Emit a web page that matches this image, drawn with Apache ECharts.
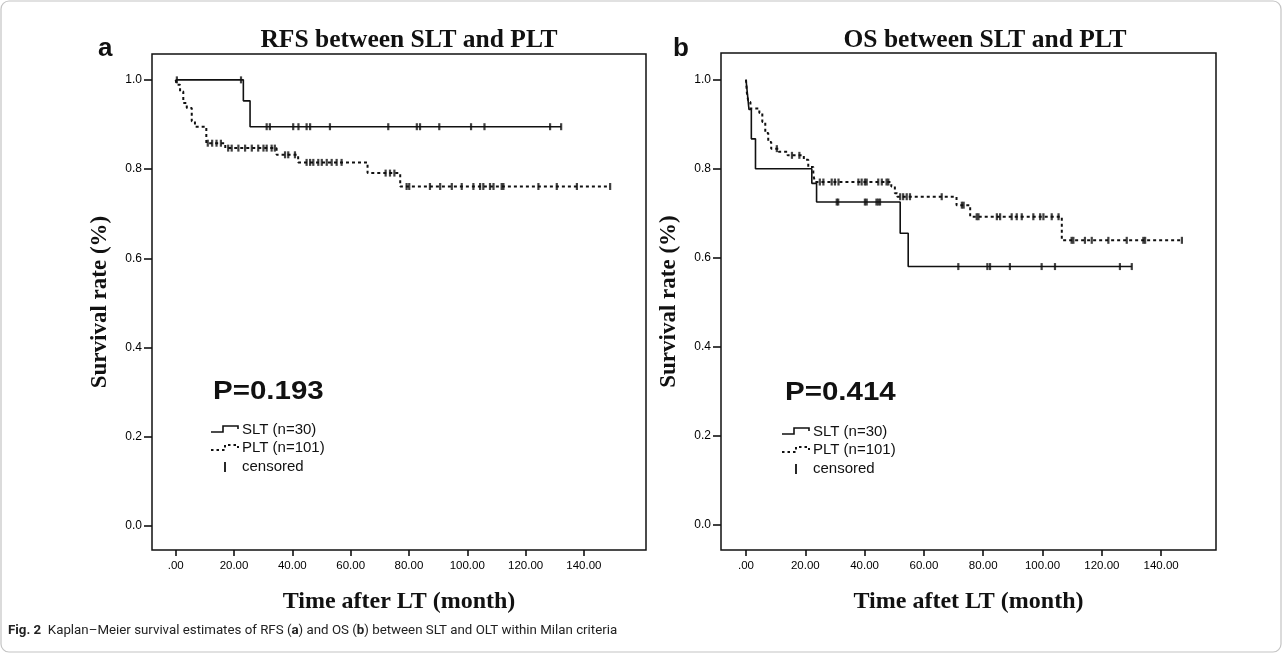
<!DOCTYPE html>
<html>
<head>
<meta charset="utf-8">
<script src="https://cdn.jsdelivr.net/npm/echarts@6/dist/echarts.min.js"></script>
<style>
  html, body { margin: 0; padding: 0; background: #fff; }
  #km { width: 1282px; height: 653px; }
</style>
</head>
<body>
<div id="km"></div>
<script>
// tick labels
const xTicks = [0, 20, 40, 60, 80, 100, 120, 140];
const yTicks = [0, 0.2, 0.4, 0.6, 0.8, 1.0];

// RFS (a) - step points [month, survival]
const rfsSltSteps = [[0, 1], [23.2, 0.953], [25.5, 0.895], [132.2, 0.895]];
const rfsSltCensor = [0.4, 22.4, 31.2, 32.3, 40.3, 42.1, 44.9, 46.1, 52.9, 72.9, 82.7, 83.8, 90.4, 101.3, 105.9, 128.4, 132.2];
const rfsPltSteps = [[0, 1], [0.3, 0.989], [1.5, 0.974], [2.6, 0.948], [3.8, 0.937], [5.5, 0.907], [6.6, 0.895],
  [10.5, 0.858], [17, 0.847], [34.6, 0.832], [42, 0.815], [65.8, 0.791], [77, 0.761], [149, 0.761]];
const rfsPltCensor = [11, 12.5, 14, 15.5, 18, 19.2, 21.5, 23.8, 26.1, 28.3, 30.1, 31.2, 32.9, 34, 37.5, 38.6, 40.9,
  44.9, 46.1, 47.2, 48.9, 50.1, 51.8, 53.5, 55.2, 56.9, 72, 73.5, 75, 79.2, 80.1, 87.2, 90.7, 94.7, 98.1,
  102.1, 104.4, 105.5, 107.8, 109, 111.8, 112.4, 124.4, 130.7, 137.6, 149];

// OS (b)
const osSltSteps = [[0, 1], [0.5, 0.967], [1, 0.933], [1.8, 0.867], [3.2, 0.8], [22.2, 0.767], [23.8, 0.725],
  [52, 0.655], [54.7, 0.58], [130.1, 0.58]];
const osSltCensor = [30.6, 31.1, 40.1, 40.7, 44, 44.6, 45.2, 71.6, 81.4, 82.3, 89, 99.7, 104.2, 126.1, 130.1];
const osPltSteps = [[0, 1], [0.3, 0.97], [0.8, 0.95], [1.5, 0.935], [4.5, 0.925], [5.5, 0.905], [6.5, 0.88],
  [7.5, 0.86], [8.5, 0.845], [11, 0.838], [14, 0.83], [19.5, 0.82], [21, 0.804], [22.7, 0.785], [23.3, 0.77],
  [49, 0.76], [50.2, 0.745], [51, 0.737], [71, 0.718], [75.6, 0.692], [106.5, 0.639], [147, 0.639]];
const osPltCensor = [10.4, 15.5, 18, 24.9, 26.1, 28.9, 30, 31.2, 37.9, 39, 40.1, 40.7, 44.6, 45.8, 47.4, 48, 52, 53,
  54.2, 55.3, 66, 72.8, 73.4, 77.8, 78.4, 84.6, 85.7, 89.6, 91.3, 93, 96.9, 99.2, 100.3, 103.1, 105.4, 109.8,
  110.4, 114.3, 116.6, 122.2, 128.4, 134, 134.6, 147];

// survival level at time t (for placing censor marks on the curve)
function levelAt(steps, t) {
  let v = steps[0][1];
  for (const s of steps) { if (s[0] <= t) v = s[1]; }
  return v;
}
function censorPts(steps, times) {
  return times.map(t => [t, levelAt(steps, t)]);
}

const serif = 'Liberation Serif';
const sans = 'Liberation Sans';

function xAx(idx, min, max, name) {
  return {
    gridIndex: idx, type: 'value', min: min, max: max,
    name: name, nameLocation: 'middle', nameGap: 40,
    nameTextStyle: { fontFamily: serif, fontWeight: 'bold', fontSize: 24, color: '#111' },
    axisLine: { show: false, onZero: false },
    axisTick: { show: true, customValues: xTicks, length: 6, lineStyle: { color: '#111', width: 1.6 } },
    axisLabel: {
      customValues: xTicks, margin: 10, fontFamily: sans, fontSize: 11.5, color: '#000',
      formatter: v => v === 0 ? '.00' : v.toFixed(2)
    },
    splitLine: { show: false }
  };
}
function yAx(idx, min, max) {
  return {
    gridIndex: idx, type: 'value', min: min, max: max,
    name: 'Survival rate (%)', nameLocation: 'middle', nameGap: 40,
    nameTextStyle: { fontFamily: serif, fontWeight: 'bold', fontSize: 23, color: '#111' },
    axisLine: { show: false, onZero: false },
    axisTick: { show: true, customValues: yTicks, length: 8, lineStyle: { color: '#111', width: 1.6 } },
    axisLabel: {
      customValues: yTicks, margin: 10, fontFamily: sans, fontSize: 12, color: '#000',
      formatter: v => v.toFixed(1)
    },
    splitLine: { show: false }
  };
}

const solid = { color: '#111', width: 1.6, type: 'solid' };
const dotted = { color: '#111', width: 2, type: [3, 3] };

function curve(idx, steps, style) {
  return {
    type: 'line', xAxisIndex: idx, yAxisIndex: idx, step: 'end',
    data: steps, symbol: 'none', lineStyle: style, silent: true, animation: false
  };
}
function marks(idx, steps, times) {
  return {
    type: 'scatter', xAxisIndex: idx, yAxisIndex: idx,
    data: censorPts(steps, times), symbol: 'rect', symbolSize: [2.2, 7],
    itemStyle: { color: '#111' }, silent: true, animation: false
  };
}

function legendBlock(x, y) {
  // x,y: left of icon, centre of first row
  return {
    type: 'group', x: x, y: y,
    children: [
      { type: 'polyline', shape: { points: [[0, 2], [12, 2], [12, -4], [27, -4], [27, -1]] },
        style: { stroke: '#111', lineWidth: 1.6, fill: null } },
      { type: 'polyline', shape: { points: [[0, 20], [14, 20], [14, 15], [27, 15], [27, 18]] },
        style: { stroke: '#111', lineWidth: 2, lineDash: [2.5, 3], fill: null } },
      { type: 'line', shape: { x1: 14, y1: 32, x2: 14, y2: 42 }, style: { stroke: '#111', lineWidth: 1.8 } },
      { type: 'text', x: 31, y: 0, style: { text: 'SLT (n=30)', font: '15px ' + sans, fill: '#111', verticalAlign: 'middle' } },
      { type: 'text', x: 31, y: 18, style: { text: 'PLT (n=101)', font: '15px ' + sans, fill: '#111', verticalAlign: 'middle' } },
      { type: 'text', x: 31, y: 37, style: { text: 'censored', font: '15px ' + sans, fill: '#111', verticalAlign: 'middle' } }
    ]
  };
}

const chart = echarts.init(document.getElementById('km'), null, { renderer: 'canvas' });
chart.setOption({
  animation: false,
  backgroundColor: '#fff',
  title: [
    { text: 'RFS between SLT and PLT', left: 404, top: 22, textAlign: 'center',
      textStyle: { fontFamily: serif, fontWeight: 'bold', fontSize: 25.5, color: '#111' } },
    { text: 'OS between SLT and PLT', left: 980, top: 22, textAlign: 'center',
      textStyle: { fontFamily: serif, fontWeight: 'bold', fontSize: 25.5, color: '#111' } }
  ],
  grid: [
    { left: 152, top: 54, width: 494, height: 496, show: true, borderColor: '#111', borderWidth: 1.5, backgroundColor: 'transparent' },
    { left: 721, top: 53, width: 495, height: 497, show: true, borderColor: '#111', borderWidth: 1.5, backgroundColor: 'transparent' }
  ],
  xAxis: [
    xAx(0, -8.13, 161.3, 'Time after LT (month)'),
    xAx(1, -8.43, 158.5, 'Time aftet LT (month)')
  ],
  yAxis: [
    yAx(0, -0.054, 1.058),
    yAx(1, -0.057, 1.06)
  ],
  series: [
    curve(0, rfsSltSteps, solid),
    curve(0, rfsPltSteps, dotted),
    marks(0, rfsSltSteps, rfsSltCensor),
    marks(0, rfsPltSteps, rfsPltCensor),
    curve(1, osSltSteps, solid),
    curve(1, osPltSteps, dotted),
    marks(1, osSltSteps, osSltCensor),
    marks(1, osPltSteps, osPltCensor)
  ],
  graphic: [
    { type: 'rect', shape: { x: 1, y: 1, width: 1280, height: 651, r: 8 },
      style: { stroke: '#c4c4c4', lineWidth: 1.2, fill: null }, silent: true },
    { type: 'text', x: 98, y: 62, style: { text: 'a', font: 'bold 26px ' + sans, fill: '#111', verticalAlign: 'bottom' } },
    { type: 'text', x: 673, y: 62, style: { text: 'b', font: 'bold 26px ' + sans, fill: '#111', verticalAlign: 'bottom' } },
    { type: 'text', x: 213, y: 392, scaleX: 1.18, style: { text: 'P=0.193', font: 'bold 25px ' + sans, fill: '#111', verticalAlign: 'middle' } },
    { type: 'text', x: 785, y: 393, scaleX: 1.18, style: { text: 'P=0.414', font: 'bold 25px ' + sans, fill: '#111', verticalAlign: 'middle' } },
    legendBlock(211, 430),
    legendBlock(782, 432),
    { type: 'text', x: 8, y: 631, style: {
        text: '{b|Fig. 2}  Kaplan–Meier survival estimates of RFS ({b|a}) and OS ({b|b}) between SLT and OLT within Milan criteria',
        font: '13.3px Roboto', fill: '#222', verticalAlign: 'middle',
        rich: { b: { fontFamily: 'Roboto', fontWeight: 'bold', fontSize: 13.3, fill: '#222' } }
      } }
  ]
});
</script>
</body>
</html>
